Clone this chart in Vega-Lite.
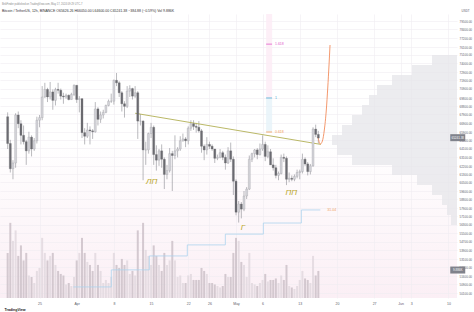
{
"$schema": "https://vega.github.io/schema/vega-lite/v6.json",
"width": 457, "height": 284,
"autosize": "none",
"padding": {"left": 0, "top": 14, "right": 17, "bottom": 14},
"background": "#ffffff",
"config": {
  "font": "Liberation Sans",
  "axis": {"labelOverlap": false, "labelFlush": false, "labelBound": false},
  "view": {"stroke": null, "fill": {"gradient": "linear", "x1": 0, "y1": 0, "x2": 0, "y2": 1, "stops": [{"offset": 0, "color": "#ffffff"}, {"offset": 0.45, "color": "#ffffff"}, {"offset": 1, "color": "#fbeff5"}]}}
},
"title": {
  "text": "BrikFinder published on TradingView.com, May 17, 2024 09:29 UTC-7",
  "subtitle": "Bitcoin / TetherUS, 12h, BINANCE  O65626.26 H66050.00 L64600.00 C65241.38 −384.88 (−0.59%)  Vol 9.886K",
  "anchor": "start", "frame": "group", "offset": 2, "dx": 2, "dy": 5,
  "fontSize": 2.6, "fontWeight": "normal", "color": "#8a8a8a",
  "subtitleFontSize": 3.5, "subtitleColor": "#333333", "subtitlePadding": 3
},
"datasets": {
  "candles": [
{"t":"2024-03-19T00:00:00Z","o":67600,"h":68100,"l":64000,"c":64600,"v":30000},
{"t":"2024-03-19T12:00:00Z","o":64600,"h":65000,"l":61500,"c":61900,"v":50000},
{"t":"2024-03-20T00:00:00Z","o":61900,"h":62800,"l":60800,"c":62500,"v":38000},
{"t":"2024-03-20T12:00:00Z","o":62500,"h":68000,"l":62000,"c":67800,"v":45000},
{"t":"2024-03-21T00:00:00Z","o":67800,"h":68200,"l":66300,"c":66800,"v":28000},
{"t":"2024-03-21T12:00:00Z","o":66800,"h":67200,"l":64500,"c":65500,"v":35000},
{"t":"2024-03-22T00:00:00Z","o":65500,"h":66600,"l":64500,"c":64800,"v":25000},
{"t":"2024-03-22T12:00:00Z","o":64800,"h":65000,"l":62300,"c":63800,"v":30000},
{"t":"2024-03-23T00:00:00Z","o":63800,"h":65900,"l":63500,"c":65300,"v":15000},
{"t":"2024-03-23T12:00:00Z","o":65300,"h":65500,"l":63200,"c":64000,"v":14000},
{"t":"2024-03-24T00:00:00Z","o":64000,"h":65200,"l":63800,"c":64900,"v":10000},
{"t":"2024-03-24T12:00:00Z","o":64900,"h":67600,"l":64600,"c":67200,"v":18000},
{"t":"2024-03-25T00:00:00Z","o":67200,"h":67800,"l":66400,"c":67500,"v":20000},
{"t":"2024-03-25T12:00:00Z","o":67500,"h":71200,"l":67200,"c":69900,"v":40000},
{"t":"2024-03-26T00:00:00Z","o":69900,"h":71600,"l":69800,"c":70800,"v":30000},
{"t":"2024-03-26T12:00:00Z","o":70800,"h":71000,"l":69300,"c":69900,"v":25000},
{"t":"2024-03-27T00:00:00Z","o":69900,"h":71700,"l":69600,"c":70500,"v":28000},
{"t":"2024-03-27T12:00:00Z","o":70500,"h":70800,"l":68400,"c":69500,"v":30000},
{"t":"2024-03-28T00:00:00Z","o":69500,"h":71000,"l":68900,"c":70800,"v":22000},
{"t":"2024-03-28T12:00:00Z","o":70800,"h":71600,"l":70300,"c":70700,"v":18000},
{"t":"2024-03-29T00:00:00Z","o":70700,"h":70900,"l":69600,"c":70000,"v":16000},
{"t":"2024-03-29T12:00:00Z","o":70000,"h":70400,"l":69100,"c":69900,"v":15000},
{"t":"2024-03-30T00:00:00Z","o":69900,"h":70300,"l":69700,"c":70100,"v":9000},
{"t":"2024-03-30T12:00:00Z","o":70100,"h":70200,"l":69500,"c":69600,"v":10000},
{"t":"2024-03-31T00:00:00Z","o":69600,"h":70400,"l":69600,"c":70200,"v":8000},
{"t":"2024-03-31T12:00:00Z","o":70200,"h":71400,"l":70000,"c":71300,"v":14000},
{"t":"2024-04-01T00:00:00Z","o":71300,"h":71300,"l":69200,"c":69600,"v":25000},
{"t":"2024-04-01T12:00:00Z","o":69600,"h":70000,"l":68100,"c":69700,"v":30000},
{"t":"2024-04-02T00:00:00Z","o":69700,"h":69700,"l":65200,"c":65800,"v":40000},
{"t":"2024-04-02T12:00:00Z","o":65800,"h":66300,"l":64500,"c":65400,"v":30000},
{"t":"2024-04-03T00:00:00Z","o":65400,"h":66900,"l":65200,"c":66100,"v":24000},
{"t":"2024-04-03T12:00:00Z","o":66100,"h":66500,"l":64500,"c":66000,"v":22000},
{"t":"2024-04-04T00:00:00Z","o":66000,"h":66200,"l":65100,"c":65900,"v":18000},
{"t":"2024-04-04T12:00:00Z","o":65900,"h":69300,"l":65800,"c":68500,"v":30000},
{"t":"2024-04-05T00:00:00Z","o":68500,"h":68700,"l":66600,"c":67300,"v":22000},
{"t":"2024-04-05T12:00:00Z","o":67300,"h":68200,"l":66900,"c":67800,"v":18000},
{"t":"2024-04-06T00:00:00Z","o":67800,"h":68400,"l":67400,"c":68100,"v":10000},
{"t":"2024-04-06T12:00:00Z","o":68100,"h":69000,"l":68000,"c":68900,"v":12000},
{"t":"2024-04-07T00:00:00Z","o":68900,"h":69600,"l":68800,"c":69400,"v":10000},
{"t":"2024-04-07T12:00:00Z","o":69400,"h":70300,"l":69200,"c":69400,"v":14000},
{"t":"2024-04-08T00:00:00Z","o":69400,"h":72000,"l":69000,"c":71900,"v":30000},
{"t":"2024-04-08T12:00:00Z","o":71900,"h":72800,"l":71200,"c":71600,"v":22000},
{"t":"2024-04-09T00:00:00Z","o":71600,"h":71800,"l":69900,"c":70400,"v":20000},
{"t":"2024-04-09T12:00:00Z","o":70400,"h":70600,"l":68200,"c":69100,"v":26000},
{"t":"2024-04-10T00:00:00Z","o":69100,"h":69400,"l":67500,"c":68800,"v":22000},
{"t":"2024-04-10T12:00:00Z","o":68800,"h":71200,"l":68600,"c":70600,"v":25000},
{"t":"2024-04-11T00:00:00Z","o":70600,"h":71300,"l":69900,"c":70900,"v":16000},
{"t":"2024-04-11T12:00:00Z","o":70900,"h":71000,"l":69600,"c":70000,"v":18000},
{"t":"2024-04-12T00:00:00Z","o":70000,"h":71200,"l":69800,"c":70400,"v":15000},
{"t":"2024-04-12T12:00:00Z","o":70400,"h":70600,"l":65100,"c":67100,"v":45000},
{"t":"2024-04-13T00:00:00Z","o":67100,"h":67900,"l":66600,"c":67100,"v":18000},
{"t":"2024-04-13T12:00:00Z","o":67100,"h":67200,"l":60700,"c":63900,"v":50000},
{"t":"2024-04-14T00:00:00Z","o":63900,"h":64800,"l":62300,"c":63900,"v":32000},
{"t":"2024-04-14T12:00:00Z","o":63900,"h":65800,"l":63500,"c":65700,"v":28000},
{"t":"2024-04-15T00:00:00Z","o":65700,"h":66900,"l":65200,"c":66400,"v":22000},
{"t":"2024-04-15T12:00:00Z","o":66400,"h":66600,"l":62300,"c":63400,"v":35000},
{"t":"2024-04-16T00:00:00Z","o":63400,"h":64400,"l":61700,"c":62800,"v":28000},
{"t":"2024-04-16T12:00:00Z","o":62800,"h":64000,"l":62200,"c":63800,"v":22000},
{"t":"2024-04-17T00:00:00Z","o":63800,"h":64500,"l":62000,"c":62900,"v":18000},
{"t":"2024-04-17T12:00:00Z","o":62900,"h":63100,"l":59800,"c":61300,"v":30000},
{"t":"2024-04-18T00:00:00Z","o":61300,"h":62300,"l":60800,"c":61700,"v":22000},
{"t":"2024-04-18T12:00:00Z","o":61700,"h":64100,"l":61500,"c":63500,"v":25000},
{"t":"2024-04-19T00:00:00Z","o":63500,"h":63800,"l":59600,"c":63300,"v":38000},
{"t":"2024-04-19T12:00:00Z","o":63300,"h":65500,"l":62900,"c":63800,"v":25000},
{"t":"2024-04-20T00:00:00Z","o":63800,"h":64200,"l":63100,"c":64000,"v":14000},
{"t":"2024-04-20T12:00:00Z","o":64000,"h":65400,"l":63800,"c":64900,"v":15000},
{"t":"2024-04-21T00:00:00Z","o":64900,"h":65700,"l":64800,"c":65100,"v":10000},
{"t":"2024-04-21T12:00:00Z","o":65100,"h":65300,"l":64200,"c":64900,"v":10000},
{"t":"2024-04-22T00:00:00Z","o":64900,"h":66500,"l":64500,"c":66300,"v":15000},
{"t":"2024-04-22T12:00:00Z","o":66300,"h":67200,"l":66000,"c":66800,"v":16000},
{"t":"2024-04-23T00:00:00Z","o":66800,"h":67200,"l":66100,"c":66500,"v":12000},
{"t":"2024-04-23T12:00:00Z","o":66500,"h":66900,"l":65800,"c":66400,"v":12000},
{"t":"2024-04-24T00:00:00Z","o":66400,"h":67100,"l":65800,"c":66000,"v":12000},
{"t":"2024-04-24T12:00:00Z","o":66000,"h":66200,"l":63600,"c":64300,"v":20000},
{"t":"2024-04-25T00:00:00Z","o":64300,"h":64500,"l":62800,"c":63900,"v":18000},
{"t":"2024-04-25T12:00:00Z","o":63900,"h":65300,"l":63400,"c":64500,"v":16000},
{"t":"2024-04-26T00:00:00Z","o":64500,"h":64800,"l":64000,"c":64300,"v":10000},
{"t":"2024-04-26T12:00:00Z","o":64300,"h":64500,"l":63800,"c":64000,"v":10000},
{"t":"2024-04-27T00:00:00Z","o":64000,"h":64000,"l":62500,"c":63000,"v":9000},
{"t":"2024-04-27T12:00:00Z","o":63000,"h":63400,"l":62800,"c":63100,"v":8000},
{"t":"2024-04-28T00:00:00Z","o":63100,"h":64000,"l":63000,"c":63600,"v":7000},
{"t":"2024-04-28T12:00:00Z","o":63600,"h":63800,"l":62800,"c":63100,"v":8000},
{"t":"2024-04-29T00:00:00Z","o":63100,"h":63400,"l":61800,"c":62500,"v":16000},
{"t":"2024-04-29T12:00:00Z","o":62500,"h":64200,"l":62400,"c":63800,"v":14000},
{"t":"2024-04-30T00:00:00Z","o":63800,"h":64700,"l":62600,"c":62900,"v":14000},
{"t":"2024-04-30T12:00:00Z","o":62900,"h":63200,"l":59200,"c":60600,"v":30000},
{"t":"2024-05-01T00:00:00Z","o":60600,"h":60800,"l":57200,"c":57500,"v":40000},
{"t":"2024-05-01T12:00:00Z","o":57500,"h":58600,"l":56500,"c":58300,"v":38000},
{"t":"2024-05-02T00:00:00Z","o":58300,"h":58500,"l":56900,"c":57800,"v":24000},
{"t":"2024-05-02T12:00:00Z","o":57800,"h":59600,"l":57600,"c":59100,"v":22000},
{"t":"2024-05-03T00:00:00Z","o":59100,"h":60000,"l":58800,"c":59800,"v":14000},
{"t":"2024-05-03T12:00:00Z","o":59800,"h":63300,"l":59700,"c":62900,"v":30000},
{"t":"2024-05-04T00:00:00Z","o":62900,"h":63600,"l":62600,"c":63500,"v":10000},
{"t":"2024-05-04T12:00:00Z","o":63500,"h":64000,"l":63100,"c":63900,"v":9000},
{"t":"2024-05-05T00:00:00Z","o":63900,"h":64100,"l":62900,"c":63400,"v":8000},
{"t":"2024-05-05T12:00:00Z","o":63400,"h":64600,"l":63300,"c":64000,"v":10000},
{"t":"2024-05-06T00:00:00Z","o":64000,"h":65500,"l":63800,"c":64500,"v":12000},
{"t":"2024-05-06T12:00:00Z","o":64500,"h":64800,"l":62700,"c":63200,"v":16000},
{"t":"2024-05-07T00:00:00Z","o":63200,"h":64400,"l":63000,"c":63700,"v":11000},
{"t":"2024-05-07T12:00:00Z","o":63700,"h":64000,"l":62300,"c":62300,"v":12000},
{"t":"2024-05-08T00:00:00Z","o":62300,"h":63000,"l":61700,"c":62000,"v":12000},
{"t":"2024-05-08T12:00:00Z","o":62000,"h":62300,"l":60900,"c":61200,"v":13000},
{"t":"2024-05-09T00:00:00Z","o":61200,"h":61600,"l":60700,"c":61400,"v":10000},
{"t":"2024-05-09T12:00:00Z","o":61400,"h":63400,"l":61300,"c":63100,"v":15000},
{"t":"2024-05-10T00:00:00Z","o":63100,"h":63500,"l":62600,"c":63000,"v":12000},
{"t":"2024-05-10T12:00:00Z","o":63000,"h":63200,"l":60200,"c":60800,"v":22000},
{"t":"2024-05-11T00:00:00Z","o":60800,"h":61500,"l":60500,"c":60900,"v":8000},
{"t":"2024-05-11T12:00:00Z","o":60900,"h":61200,"l":60600,"c":60800,"v":7000},
{"t":"2024-05-12T00:00:00Z","o":60800,"h":61300,"l":60600,"c":61100,"v":6000},
{"t":"2024-05-12T12:00:00Z","o":61100,"h":61800,"l":60900,"c":61500,"v":8000},
{"t":"2024-05-13T00:00:00Z","o":61500,"h":61800,"l":60800,"c":61600,"v":12000},
{"t":"2024-05-13T12:00:00Z","o":61600,"h":63500,"l":61400,"c":62900,"v":18000},
{"t":"2024-05-14T00:00:00Z","o":62900,"h":63100,"l":62200,"c":62400,"v":13000},
{"t":"2024-05-14T12:00:00Z","o":62400,"h":62600,"l":61200,"c":61600,"v":12000},
{"t":"2024-05-15T00:00:00Z","o":61600,"h":62400,"l":61300,"c":62200,"v":10000},
{"t":"2024-05-15T12:00:00Z","o":62200,"h":66400,"l":62100,"c":66200,"v":28000},
{"t":"2024-05-16T00:00:00Z","o":66200,"h":66700,"l":65300,"c":65600,"v":15000},
{"t":"2024-05-16T12:00:00Z","o":65600,"h":66000,"l":64600,"c":65200,"v":18000}
  ],
  "profile": [
{"lo":73794,"hi":75055,"w":25},
{"lo":72554,"hi":73794,"w":45},
{"lo":71335,"hi":72554,"w":65},
{"lo":70136,"hi":71335,"w":80},
{"lo":68957,"hi":70136,"w":88},
{"lo":67797,"hi":68957,"w":95},
{"lo":66658,"hi":67797,"w":105},
{"lo":65538,"hi":66658,"w":115},
{"lo":64437,"hi":65538,"w":125},
{"lo":63354,"hi":64437,"w":120},
{"lo":62289,"hi":63354,"w":105},
{"lo":61242,"hi":62289,"w":65},
{"lo":60213,"hi":61242,"w":40},
{"lo":59201,"hi":60213,"w":25},
{"lo":58206,"hi":59201,"w":15},
{"lo":57228,"hi":58206,"w":10},
{"lo":56266,"hi":57228,"w":6}
  ],
  "steps": [
{"t":"2024-04-01T00:00:00Z","v":3.9},
{"t":"2024-04-08T00:00:00Z","v":9.9},
{"t":"2024-04-15T00:00:00Z","v":14.8},
{"t":"2024-04-22T00:00:00Z","v":18.7},
{"t":"2024-04-29T00:00:00Z","v":22.5},
{"t":"2024-05-06T00:00:00Z","v":26.4},
{"t":"2024-05-13T00:00:00Z","v":31.0},
{"t":"2024-05-16T12:00:00Z","v":31.0,"lbl":"31.04"}
  ],
  "neck": [
{"t":"2024-04-12T00:00:00Z","p":68000},
{"t":"2024-05-16T23:30:00Z","p":64500}
  ],
  "curve": [
{"t":"2024-05-16T10:20:00Z","p":65316},
{"t":"2024-05-16T20:40:00Z","p":64540},
{"t":"2024-05-17T06:15:00Z","p":64870},
{"t":"2024-05-17T15:00:00Z","p":66096},
{"t":"2024-05-18T00:00:00Z","p":68373},
{"t":"2024-05-18T06:30:00Z","p":70972},
{"t":"2024-05-18T12:15:00Z","p":73794},
{"t":"2024-05-18T16:50:00Z","p":76337}
  ],
  "fibband": [
{"t1":"2024-05-06T16:00:00Z","t2":"2024-05-07T19:00:00Z","lo":69800,"hi":80456,"zone":"ext"},
{"t1":"2024-05-06T16:00:00Z","t2":"2024-05-07T19:00:00Z","lo":65900,"hi":69800,"zone":"base"}
  ],
  "fiblev": [
{"level":"1.618","p":76450},
{"level":"1","p":69780},
{"level":"0.618","p":65870}
  ],
  "notes": [
{"t":"2024-04-15T03:00:00Z","p":60540,"txt":"ЛП"},
{"t":"2024-05-02T07:00:00Z","p":55980,"txt":"Г"},
{"t":"2024-05-11T10:00:00Z","p":59370,"txt":"ПП"}
  ],
  "tags": [
{"p":65241,"lbl":"65241.38"},
{"p":52130,"lbl":"9.886K"}
  ]
},
"layer": [
  {
    "data": {"name": "candles"},
    "mark": {"type": "bar", "size": 2, "opacity": 0.8},
    "encoding": {
      "x": {"field": "t", "type": "temporal", "scale": {"type": "utc", "domain": [1710763200000, 1718035200000], "nice": false},
        "axis": {
          "values": [1711324800000, 1711929600000, 1712534400000, 1713139200000, 1713744000000, 1714089600000, 1714521600000, 1714953600000, 1715558400000, 1716163200000, 1716768000000, 1717200000000, 1717372800000, 1717977600000],
          "labelExpr": "utcdate(datum.value) == 1 ? utcFormat(datum.value, '%b') : utcFormat(datum.value, '%-d')",
          "labelFontSize": 3.5, "labelColor": "#5d606b", "labelPadding": 3,
          "labelOverlap": false, "labelFlush": false, "labelSeparation": 0,
          "domain": false, "ticks": false,
          "grid": true, "gridColor": "#f0edf2", "gridWidth": 0.6,
          "title": "TradingView", "titleFontSize": 3.6, "titleFontWeight": "bold", "titleColor": "#222222",
          "titleX": 4, "titleY": 11, "titleAlign": "left", "titleAnchor": "start", "titleBaseline": "middle"
        }
      },
      "y": {"field": "v", "type": "quantitative", "scale": {"domain": [0, 189000], "nice": false}, "axis": null},
      "color": {"condition": {"test": "datum.c >= datum.o", "value": "#e0d7dd"}, "value": "#c9bec5"}
    }
  },
  {
    "data": {"name": "profile"},
    "mark": {"type": "bar", "color": "#e6e6e9", "opacity": 0.75},
    "encoding": {
      "y": {"field": "lo", "type": "quantitative", "scale": {"type": "log", "domain": [49717, 80456], "nice": false}, "axis": null},
      "y2": {"field": "hi"},
      "x": {"field": "w", "type": "quantitative", "scale": {"domain": [0, 457], "reverse": true, "nice": false, "zero": false}, "axis": null},
      "x2": {"datum": 0}
    }
  },
  {
    "data": {"name": "steps"},
    "encoding": {
      "x": {"field": "t", "type": "temporal", "scale": {"type": "utc", "domain": [1710763200000, 1718035200000], "nice": false}, "axis": null},
      "y": {"field": "v", "type": "quantitative", "scale": {"domain": [0, 100], "nice": false}, "axis": null}
    },
    "layer": [
      {"mark": {"type": "line", "interpolate": "step-after", "color": "#acd3ee", "strokeWidth": 0.8}},
      {"transform": [{"filter": "datum.lbl"}], "mark": {"type": "text", "align": "left", "baseline": "middle", "dx": 7, "fontSize": 3.5, "color": "#f0a060"}, "encoding": {"text": {"field": "lbl"}}}
    ]
  },
  {
    "layer": [
      {
        "data": {"name": "candles"},
        "mark": {"type": "rule", "color": "#8c8c92", "strokeWidth": 0.6},
        "encoding": {
          "x": {"field": "t", "type": "temporal",
            "scale": {"type": "utc", "domain": [1710763200000, 1718035200000], "nice": false},
            "axis": null
          },
          "y": {"field": "l", "type": "quantitative",
            "scale": {"type": "log", "domain": [49717, 80456], "nice": false},
            "axis": {
              "orient": "right",
              "values": [79500, 78400, 77200, 76100, 75100, 74000, 72900, 71900, 70900, 69800, 68800, 67900, 66900, 65900, 65000, 64100, 63100, 62200, 61300, 60500, 59600, 58800, 57900, 57100, 56300, 55500, 54700, 53900, 53100, 52400, 51600, 50900, 50100],
              "format": ".2f",
              "labelFontSize": 3, "labelColor": "#5d606b", "labelPadding": 2,
              "labelOverlap": false, "labelFlush": false,
              "domain": false, "ticks": false,
              "grid": true, "gridColor": "#f0edf2", "gridWidth": 0.6,
              "title": "USDT", "titleAngle": 0, "titleX": 4, "titleY": -4,
              "titleFontSize": 3, "titleFontWeight": "normal", "titleColor": "#5d606b",
              "titleAlign": "left", "titleBaseline": "middle"
            }
          },
          "y2": {"field": "h"}
        }
      },
      {
        "data": {"name": "fibband"},
        "mark": {"type": "rect", "opacity": 0.8},
        "encoding": {
          "x": {"field": "t1", "type": "temporal", "axis": null},
          "x2": {"field": "t2"},
          "y": {"field": "lo", "type": "quantitative"},
          "y2": {"field": "hi"},
          "color": {"condition": {"test": "datum.zone == 'ext'", "value": "#fcebf5"}, "value": "#e6f2f9"}
        }
      },
      {
        "data": {"name": "fiblev"},
        "mark": {"type": "rule", "strokeWidth": 0.8},
        "encoding": {
          "x": {"datum": {"year": 2024, "month": 5, "date": 6, "hours": 16, "utc": true}, "type": "temporal", "axis": null},
          "x2": {"datum": {"year": 2024, "month": 5, "date": 7, "hours": 19, "utc": true}},
          "y": {"field": "p", "type": "quantitative"},
          "color": {"condition": [{"test": "datum.level == '1.618'", "value": "#e25ccc"}, {"test": "datum.level == '1'", "value": "#4fa7d1"}], "value": "#f19a4f"}
        }
      },
      {
        "data": {"name": "fiblev"},
        "mark": {"type": "text", "align": "left", "baseline": "middle", "fontSize": 3.5},
        "encoding": {
          "x": {"datum": {"year": 2024, "month": 5, "date": 8, "hours": 8, "utc": true}, "type": "temporal", "axis": null},
          "y": {"field": "p", "type": "quantitative"},
          "text": {"field": "level"},
          "color": {"condition": [{"test": "datum.level == '1.618'", "value": "#e25ccc"}, {"test": "datum.level == '1'", "value": "#4fa7d1"}], "value": "#f19a4f"}
        }
      },
      {
        "data": {"name": "neck"},
        "mark": {"type": "line", "color": "#b2b056", "strokeWidth": 0.9},
        "encoding": {
          "x": {"field": "t", "type": "temporal", "axis": null},
          "y": {"field": "p", "type": "quantitative"}
        }
      },
      {
        "data": {"name": "curve"},
        "mark": {"type": "line", "color": "#f28c5c", "strokeWidth": 0.9, "interpolate": "monotone"},
        "encoding": {
          "x": {"field": "t", "type": "temporal", "axis": null},
          "y": {"field": "p", "type": "quantitative"}
        }
      },
      {
        "data": {"name": "candles"},
        "mark": {"type": "bar", "size": 2, "strokeWidth": 0.3},
        "encoding": {
          "x": {"field": "t", "type": "temporal", "axis": null},
          "y": {"field": "o", "type": "quantitative"},
          "y2": {"field": "c"},
          "fill": {"condition": {"test": "datum.c >= datum.o", "value": "#d4d4d9"}, "value": "#6c6c72"},
          "stroke": {"condition": {"test": "datum.c >= datum.o", "value": "#9a9aa1"}, "value": "#5e5e64"}
        }
      },
      {
        "data": {"name": "notes"},
        "mark": {"type": "text", "fontSize": 8, "fontStyle": "italic", "color": "#bba72c", "align": "center", "baseline": "middle"},
        "encoding": {
          "x": {"field": "t", "type": "temporal", "axis": null},
          "y": {"field": "p", "type": "quantitative"},
          "text": {"field": "txt"}
        }
      },
      {
        "data": {"name": "tags"},
        "mark": {"type": "tick", "orient": "horizontal", "size": 15, "thickness": 7, "color": "#80828b", "opacity": 1},
        "encoding": {
          "x": {"datum": {"year": 2024, "month": 6, "date": 11, "hours": 18, "utc": true}, "type": "temporal", "axis": null},
          "y": {"field": "p", "type": "quantitative"}
        }
      },
      {
        "data": {"name": "tags"},
        "mark": {"type": "text", "fontSize": 3, "color": "#ffffff", "align": "center", "baseline": "middle"},
        "encoding": {
          "x": {"datum": {"year": 2024, "month": 6, "date": 11, "hours": 18, "utc": true}, "type": "temporal", "axis": null},
          "y": {"field": "p", "type": "quantitative"},
          "text": {"field": "lbl"}
        }
      }
    ]
  }
],
"resolve": {"scale": {"x": "independent", "y": "independent"}}
}
